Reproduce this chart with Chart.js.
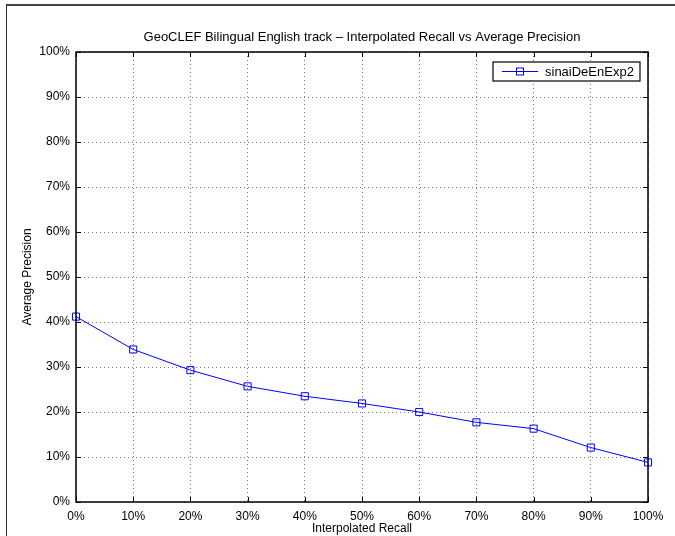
<!DOCTYPE html>
<html>
<head>
<meta charset="utf-8">
<script src="https://cdn.jsdelivr.net/npm/chart.js@4/dist/chart.umd.min.js"></script>
<style>
  body { margin: 0; background: #fff; }
  #wrap { position: relative; width: 675px; height: 536px; }
  #frame { position: absolute; left: 6px; top: 4px; right: -2px; bottom: -2px; border-left: 1px solid #333; border-top: 2px solid #444; }
  canvas { position: absolute; left: 0; top: 0; }
</style>
</head>
<body>
<div id="wrap">
  <div id="frame"></div>
  <canvas id="grafico" width="675" height="536"></canvas>
</div>
<script>
// DADOS
const recall = [0, 10, 20, 30, 40, 50, 60, 70, 80, 90, 100];
const precision = [41.2, 33.9, 29.3, 25.7, 23.5, 21.9, 20.0, 17.7, 16.3, 12.1, 8.8];
const serieNome = "sinaiDeEnExp2";
const tituloGrafico = "GeoCLEF Bilingual English track \u2013 Interpolated Recall vs Average Precision";
const eixoX = "Interpolated Recall";
const eixoY = "Average Precision";

const FONTE = "'Liberation Sans', Arial, Helvetica, sans-serif";

// TITULO CENTRADO NA AREA DO GRAFICO, MARCAS PARA DENTRO, CAIXA E LEGENDA
const caixaPlugin = {
  id: "caixa",
  afterDraw(chart) {
    const { ctx, chartArea: a, scales } = chart;
    ctx.save();

    // titulo
    ctx.fillStyle = "#000";
    ctx.font = "13px " + FONTE;
    ctx.textAlign = "center";
    ctx.textBaseline = "middle";
    ctx.fillText(tituloGrafico, (a.left + a.right) / 2, 37);

    ctx.strokeStyle = "#000";
    ctx.lineWidth = 1;
    ctx.beginPath();
    scales.x.ticks.forEach((t) => {
      const px = Math.round(scales.x.getPixelForValue(t.value)) + 0.5;
      ctx.moveTo(px, a.bottom); ctx.lineTo(px, a.bottom - 5);
      ctx.moveTo(px, a.top); ctx.lineTo(px, a.top + 5);
    });
    scales.y.ticks.forEach((t) => {
      const py = Math.round(scales.y.getPixelForValue(t.value)) + 0.5;
      ctx.moveTo(a.left, py); ctx.lineTo(a.left + 5, py);
      ctx.moveTo(a.right, py); ctx.lineTo(a.right - 5, py);
    });
    ctx.stroke();
    ctx.lineWidth = 1.5;
    ctx.strokeRect(a.left, a.top, a.right - a.left, a.bottom - a.top);

    // legenda
    const lw = 147, lh = 19;
    const lx = a.right - 8 - lw, ly = a.top + 10;
    ctx.fillStyle = "#fff";
    ctx.fillRect(lx, ly, lw, lh);
    ctx.lineWidth = 1.2;
    ctx.strokeStyle = "#000";
    ctx.strokeRect(lx, ly, lw, lh);
    const cy = ly + lh / 2;
    ctx.strokeStyle = "#0000ff";
    ctx.lineWidth = 1;
    ctx.beginPath();
    ctx.moveTo(lx + 9, cy); ctx.lineTo(lx + 45, cy);
    ctx.stroke();
    ctx.strokeRect(lx + 27 - 3.5, cy - 3.5, 7, 7);
    ctx.fillStyle = "#000";
    ctx.font = "13px " + FONTE;
    ctx.textAlign = "left";
    ctx.fillText(serieNome, lx + 52, cy + 0.5);
    ctx.restore();
  },
};

const ctx = document.getElementById("grafico").getContext("2d");
new Chart(ctx, {
  type: "line",
  data: {
    datasets: [
      {
        label: serieNome,
        data: recall.map((r, i) => ({ x: r, y: precision[i] })),
        borderColor: "#0000ff",
        backgroundColor: "rgba(0,0,0,0)",
        borderWidth: 1,
        pointStyle: "rect",
        pointRadius: 5,
        pointBorderWidth: 1,
        pointBorderColor: "#0000ff",
        tension: 0,
        fill: false,
        clip: false,
      },
    ],
  },
  options: {
    responsive: false,
    animation: false,
    layout: { padding: { left: 0, right: 27, top: 52, bottom: 0 } },
    plugins: {
      legend: { display: false },
      tooltip: { enabled: false },
      title: { display: false },
    },
    scales: {
      x: {
        type: "linear",
        min: 0,
        max: 100,
        afterFit: (s) => { s.height = 34; },
        afterBuildTicks: (s) => { s.ticks = recall.map((v) => ({ value: v })); },
        ticks: {
          color: "#000",
          font: { family: FONTE, size: 12 },
          padding: 7,
          maxRotation: 0,
          callback: (v) => v + "%",
        },
        grid: { color: "#777", lineWidth: 1, drawTicks: false },
        border: { display: false, dash: [1, 3] },
        title: {
          display: true,
          text: eixoX,
          color: "#000",
          font: { family: FONTE, size: 12, lineHeight: 1.2 },
          padding: { top: 0, bottom: 0 },
        },
      },
      y: {
        min: 0,
        max: 100,
        afterFit: (s) => { s.width = 76; },
        ticks: {
          stepSize: 10,
          color: "#000",
          font: { family: FONTE, size: 12 },
          padding: 6,
          callback: (v) => v + "%",
        },
        grid: { color: "#777", lineWidth: 1, drawTicks: false },
        border: { display: false, dash: [1, 3] },
        title: {
          display: true,
          text: eixoY,
          color: "#000",
          font: { family: FONTE, size: 12, lineHeight: 1.2 },
          padding: { top: 20, bottom: 0 },
        },
      },
    },
  },
  plugins: [caixaPlugin],
});
</script>
</body>
</html>
